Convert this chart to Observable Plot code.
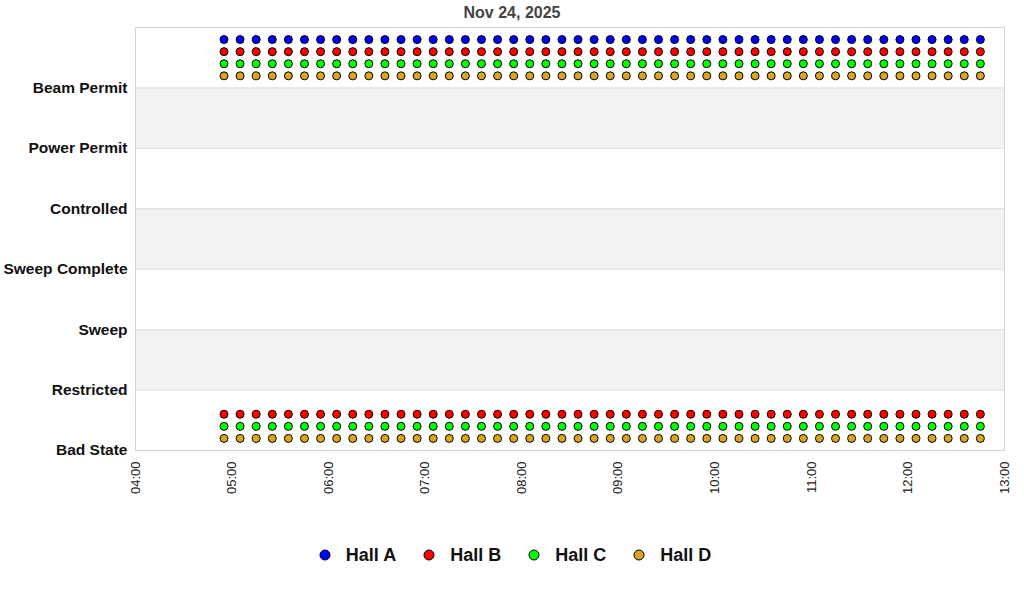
<!DOCTYPE html>
<html>
<head>
<meta charset="utf-8">
<script src="https://cdn.jsdelivr.net/npm/d3@7"></script>
<script src="https://cdn.jsdelivr.net/npm/@observablehq/plot@0.6"></script>
<style>
  html, body { margin: 0; padding: 0; background: #fff; }
  body { width: 1024px; height: 600px; font-family: "Liberation Sans", Arial, sans-serif; }
  #title { height: 22px; line-height: 25px; text-align: center; font-weight: bold; font-size: 16px; color: #444; }
  #chart svg { display: block; }
  #legend { height: 40px; display: flex; justify-content: center; align-items: center; gap: 0; font-weight: bold; font-size: 18px; color: #111; padding-left: 6px; }
  .item { display: flex; align-items: center; margin: 0 13.5px 0 13.5px; }
  .item svg { margin-right: 15px; }
</style>
</head>
<body>
<div id="title">Nov 24, 2025</div>
<div id="chart"></div>
<div id="legend"></div>
<script>
// ---- data ----
const day = "2025-11-24";
const states = ["Bad State", "Restricted", "Sweep", "Sweep Complete", "Controlled", "Power Permit", "Beam Permit"];
const halls = ["Hall A", "Hall B", "Hall C", "Hall D"];
const hallColors = ["#0000ff", "#ff0000", "#00ff00", "#daa520"];
const times = [
  "04:55","05:05","05:15","05:25","05:35","05:45",
  "05:55","06:05","06:15","06:25","06:35","06:45",
  "06:55","07:05","07:15","07:25","07:35","07:45",
  "07:55","08:05","08:15","08:25","08:35","08:45",
  "08:55","09:05","09:15","09:25","09:35","09:45",
  "09:55","10:05","10:15","10:25","10:35","10:45",
  "10:55","11:05","11:15","11:25","11:35","11:45",
  "11:55","12:05","12:15","12:25","12:35","12:45"
];
const hallAStates = ["Beam Permit"];
const hallBStates = ["Beam Permit", "Bad State"];
const hallCStates = ["Beam Permit", "Bad State"];
const hallDStates = ["Beam Permit", "Bad State"];
const xDomain = ["04:00", "13:00"];
const xTicks = ["04:00","05:00","06:00","07:00","08:00","09:00","10:00","11:00","12:00","13:00"];

// ---- build table ----
const parseT = s => new Date(`${day}T${s}:00`);
const hallStateLists = [hallAStates, hallBStates, hallCStates, hallDStates];
const points = [];
halls.forEach((h, i) => {
  hallStateLists[i].forEach(st => {
    times.forEach(t => {
      points.push({hall: h, time: parseT(t), state: st, y: states.indexOf(st) + 0.8 - 0.2 * i});
    });
  });
});
const bands = [1, 3, 5].map(v => ({y1: v, y2: v + 1, x1: parseT(xDomain[0]), x2: parseT(xDomain[1])}));
const fmt = d3.timeFormat("%H:%M");

const chart = Plot.plot({
  width: 1024,
  height: 513,
  marginTop: 5,
  marginBottom: 85,
  marginLeft: 135,
  marginRight: 20,
  style: {fontFamily: "'Liberation Sans', Arial, sans-serif", background: "#fff"},
  x: {
    type: "time",
    domain: xDomain.map(parseT),
    ticks: xTicks.map(parseT),
    tickFormat: fmt,
    tickRotate: -90,
    tickSize: 0,
    tickPadding: 11,
    label: null
  },
  y: {
    domain: [0, states.length],
    ticks: d3.range(states.length),
    tickFormat: i => states[i],
    tickSize: 0,
    tickPadding: 8,
    label: null
  },
  color: {domain: halls, range: hallColors},
  marks: [
    Plot.rect(bands, {x1: "x1", x2: "x2", y1: "y1", y2: "y2", fill: "#f2f2f2"}),
    Plot.ruleY(d3.range(1, states.length), {stroke: "#dcdcdc", strokeWidth: 1}),
    Plot.frame({stroke: "#d4d4d4"}),
    Plot.dot(points, {x: "time", y: "y", fill: "hall", stroke: "#000", strokeWidth: 1, r: 4})
  ]
});

// style axes text
d3.select(chart).selectAll("[aria-label='y-axis tick label'] text")
  .style("font-size", "15.5px").style("font-weight", "bold").attr("fill", "#111");
d3.select(chart).selectAll("[aria-label='x-axis tick label'] text")
  .style("font-size", "13px").attr("fill", "#222");
document.getElementById("chart").appendChild(chart);

// legend
const leg = document.getElementById("legend");
halls.forEach((h, i) => {
  const item = document.createElement("div");
  item.className = "item";
  item.innerHTML = `<svg width="12" height="12"><circle cx="6" cy="6" r="5" fill="${hallColors[i]}" stroke="#000" stroke-width="1"/></svg><span>${h}</span>`;
  leg.appendChild(item);
});
</script>
</body>
</html>
